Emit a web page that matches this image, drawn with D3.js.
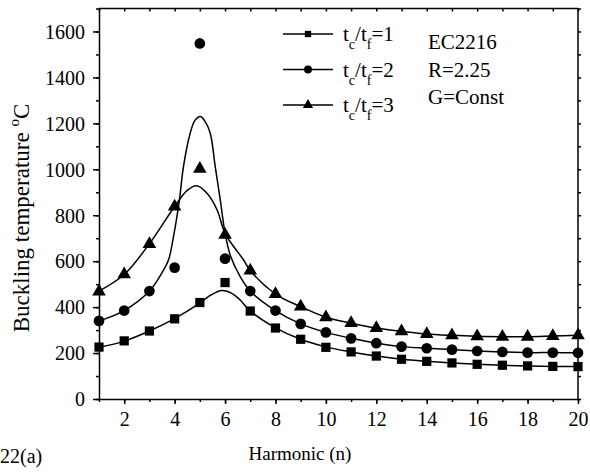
<!DOCTYPE html>
<html>
<head>
<meta charset="utf-8">
<script src="https://cdn.jsdelivr.net/npm/d3@7"></script>
<style>
  body { margin: 0; background: #fff; }
  svg text { font-family: "Liberation Serif", "Times New Roman", Times, "DejaVu Serif", serif !important; fill: #000; }
  .axis path, .axis line { stroke: #000; stroke-width: 1.5; }
</style>
</head>
<body>
<div id="chart"></div>
<script>
"use strict";

// harmonic numbers
var harmonics = d3.range(1, 21);

// computed points for each t_c/t_f ratio
var ratio1Pts = [226, 253, 296, 349, 420, 507, 383, 309, 260, 225, 205, 187, 173, 164, 157, 151, 147, 144, 142, 141];
var ratio2Pts = [340, 385, 470, 572, 1548, 611, 470, 385, 327, 290, 264, 243, 228, 221, 215, 209, 205, 202, 202, 201];
var ratio3Pts = [468, 543, 674, 838, 1002, 715, 559, 457, 402, 356, 330, 309, 295, 283, 277, 273, 271, 271, 274, 277];

// fitted curves
var fit1N = [1, 2, 3, 4, 5, 5.4, 5.87, 6.3, 6.6, 7, 8, 9, 10, 11, 12, 13, 14, 15, 16, 17, 18, 19, 20];
var fit1V = [225, 252, 296, 350, 417, 450, 472, 458, 431, 383, 310, 260, 227, 205, 187, 173, 164, 157, 151, 147, 144, 142, 141];
var fit2N = [1, 2, 3, 3.5, 3.76, 3.96, 4.19, 4.35, 4.62, 4.8, 5.02, 5.2, 5.41, 5.61, 5.81, 6, 6.21, 6.6, 7, 8, 9, 10, 11, 12, 13, 14, 15, 16, 17, 18, 19, 20];
var fit2V = [340, 385, 470, 550, 606, 710, 867, 1012, 1158, 1212, 1230, 1210, 1158, 1012, 867, 722, 625, 533, 470, 385, 327, 290, 264, 243, 228, 221, 215, 209, 205, 202, 202, 201];
var fit3N = [1, 2, 3, 4, 4.5, 4.88, 5.3, 5.68, 6, 6.4, 6.73, 7, 8, 9, 10, 11, 12, 13, 14, 15, 16, 17, 18, 19, 20];
var fit3V = [470, 542, 676, 838, 908, 928, 893, 824, 720, 655, 606, 559, 457, 402, 356, 330, 309, 295, 283, 277, 273, 271, 271, 274, 277];

var xTicks = [2, 4, 6, 8, 10, 12, 14, 16, 18, 20];
var yTicks = [0, 200, 400, 600, 800, 1000, 1200, 1400, 1600];
var legendLabels = ["1", "2", "3"];
var notes = ["EC2216", "R=2.25", "G=Const"];

var width = 590, height = 474;
var margin = { top: 8.5, right: 12, bottom: 75, left: 99 };
var w = width - margin.left - margin.right;
var h = height - margin.top - margin.bottom;

var x = d3.scaleLinear().domain([1, 20]).range([0, w]);
var y = d3.scaleLinear().domain([0, 1700]).range([h, 0]);

var svg = d3.select("#chart").append("svg")
    .attr("width", width)
    .attr("height", height);

var g = svg.append("g")
    .attr("transform", "translate(" + margin.left + "," + margin.top + ")");

// minor ticks first
g.append("g").attr("class", "axis")
    .attr("transform", "translate(0," + h + ")")
    .call(d3.axisBottom(x).tickValues(d3.range(1, 21)).tickSize(3).tickFormat(""))
    .select(".domain").remove();
g.append("g").attr("class", "axis")
    .call(d3.axisLeft(y).tickValues(d3.range(0, 1701, 100)).tickSize(3).tickFormat(""))
    .select(".domain").remove();
g.append("g").attr("class", "axis")
    .call(d3.axisBottom(x).tickValues(d3.range(1, 21)).tickSize(3).tickFormat(""))
    .select(".domain").remove();
g.append("g").attr("class", "axis")
    .attr("transform", "translate(" + w + ",0)")
    .call(d3.axisLeft(y).tickValues(d3.range(0, 1701, 100)).tickSize(-3).tickFormat(""))
    .select(".domain").remove();

// major axes
var xAxis = g.append("g").attr("class", "axis")
    .attr("transform", "translate(0," + h + ")")
    .call(d3.axisBottom(x).tickValues(xTicks).tickSize(5).tickSizeOuter(0).tickPadding(8).tickFormat(d3.format("d")));
xAxis.attr("font-family", null);
xAxis.selectAll("text").style("font-size", "20px");

var yAxis = g.append("g").attr("class", "axis")
    .call(d3.axisLeft(y).tickValues(yTicks).tickSize(6).tickSizeOuter(0).tickPadding(8).tickFormat(d3.format("d")));
yAxis.attr("font-family", null);
yAxis.selectAll("text").style("font-size", "20px").attr("dy", "0.34em");

// frame top/right
g.append("line").attr("x1", 0).attr("x2", w).attr("y1", 0).attr("y2", 0)
    .attr("stroke", "#000").attr("stroke-width", 1.5);
g.append("line").attr("x1", w).attr("x2", w).attr("y1", 0).attr("y2", h)
    .attr("stroke", "#000").attr("stroke-width", 1.5);

// fitted curves
var line = d3.line()
    .x(d => x(d[0]))
    .y(d => y(d[1]))
    .curve(d3.curveCatmullRom.alpha(0.5));

[[fit1N, fit1V], [fit2N, fit2V], [fit3N, fit3V]].forEach(function(f) {
  g.append("path")
      .datum(d3.zip(f[0], f[1]))
      .attr("d", line)
      .attr("fill", "none")
      .attr("stroke", "#000")
      .attr("stroke-width", 1.5);
});

// markers
var symSquare = d3.symbol().type(d3.symbolSquare);
var symCircle = d3.symbol().type(d3.symbolCircle);
var symTri = d3.symbol().type(d3.symbolTriangle);

function drawPoints(vals, sym, size) {
  g.append("g").selectAll("path")
    .data(d3.zip(harmonics, vals))
    .join("path")
      .attr("transform", d => "translate(" + x(d[0]) + "," + y(d[1]) + ")")
      .attr("d", sym.size(size))
      .attr("fill", "#000");
}
drawPoints(ratio1Pts, symSquare, 85);
drawPoints(ratio2Pts, symCircle, 90);
drawPoints(ratio3Pts, symTri, 80);

// legend
var legSyms = [[symSquare, 40], [symCircle, 50], [symTri, 45]];
legendLabels.forEach(function(lab, i) {
  var ly = 34 + i * 35.5;
  svg.append("line")
      .attr("x1", 283).attr("x2", 333).attr("y1", ly).attr("y2", ly)
      .attr("stroke", "#000").attr("stroke-width", 1.5);
  svg.append("path")
      .attr("transform", "translate(308," + ly + ")")
      .attr("d", legSyms[i][0].size(legSyms[i][1])())
      .attr("fill", "#000");
  var t = svg.append("text")
      .attr("x", 343).attr("y", ly + 7)
      .style("font-size", "21px");
  t.append("tspan").text("t");
  t.append("tspan").attr("dy", 8).style("font-size", "14px").text("c");
  t.append("tspan").attr("dy", -8).text("/t");
  t.append("tspan").attr("dy", 8).style("font-size", "14px").text("f");
  t.append("tspan").attr("dy", -8).text("=" + lab);
});

// notes
notes.forEach(function(n, i) {
  svg.append("text")
      .attr("x", 428).attr("y", 49 + i * 27.5)
      .style("font-size", "21px")
      .text(n);
});

// axis titles
svg.append("text")
    .attr("x", 300).attr("y", 460)
    .attr("text-anchor", "middle")
    .style("font-size", "19px")
    .text("Harmonic (n)");

var yt = svg.append("text")
    .attr("transform", "translate(29," + 218 + ") rotate(-90)")
    .attr("text-anchor", "middle")
    .style("font-size", "23px");
yt.append("tspan").text("Buckling temperature ");
yt.append("tspan").attr("dy", -10).style("font-size", "15px").text("o");
yt.append("tspan").attr("dy", 10).text("C");

svg.append("text")
    .attr("x", 0).attr("y", 463)
    .style("font-size", "20px")
    .text("22(a)");
</script>
</body>
</html>
